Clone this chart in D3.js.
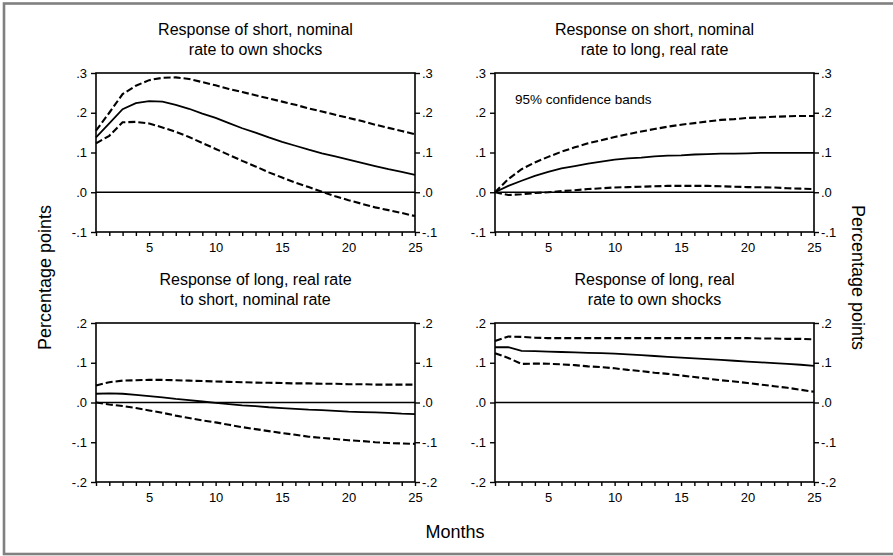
<!DOCTYPE html>
<html>
<head>
<meta charset="utf-8">
<script src="https://cdn.jsdelivr.net/npm/d3@7"></script>
<style>
  html, body { margin: 0; padding: 0; background: #fff; }
  svg { display: block; font-family: "Liberation Sans", Arial, Helvetica, sans-serif; }
</style>
</head>
<body>
<svg id="chart" width="893" height="556"></svg>
<script>
// ---- data ----
const months = [1,2,3,4,5,6,7,8,9,10,11,12,13,14,15,16,17,18,19,20,21,22,23,24,25];
const xTickMonths = [5,10,15,20,25];
const xTickLabels = ["5","10","15","20","25"];

const topYTicks = [-0.1, 0, 0.1, 0.2, 0.3];
const topYTickLabels = ["-.1", ".0", ".1", ".2", ".3"];
const bottomYTicks = [-0.2, -0.1, 0, 0.1, 0.2];
const bottomYTickLabels = ["-.2", "-.1", ".0", ".1", ".2"];

const panelTitles = [
  ["Response of short, nominal", "rate to own shocks"],
  ["Response on short, nominal", "rate to long, real rate"],
  ["Response of long, real rate", "to short, nominal rate"],
  ["Response of long, real", "rate to own shocks"]
];

// Panel 1: short, nominal rate to own shocks
const p1Mid   = [0.138,0.173,0.209,0.224,0.229,0.228,0.220,0.210,0.198,0.187,0.174,0.161,0.150,0.138,0.127,0.117,0.107,0.098,0.090,0.082,0.074,0.066,0.058,0.051,0.044];
const p1Upper = [0.155,0.200,0.247,0.268,0.282,0.288,0.289,0.285,0.277,0.269,0.260,0.252,0.244,0.236,0.228,0.220,0.211,0.203,0.195,0.187,0.179,0.170,0.162,0.154,0.146];
const p1Lower = [0.123,0.142,0.176,0.177,0.173,0.163,0.152,0.139,0.124,0.109,0.094,0.079,0.065,0.050,0.037,0.024,0.013,0.001,-0.010,-0.020,-0.029,-0.038,-0.045,-0.052,-0.060];

// Panel 2: short, nominal rate to long, real rate
const p2Mid   = [0.000,0.016,0.029,0.041,0.051,0.060,0.066,0.072,0.077,0.082,0.085,0.087,0.090,0.092,0.093,0.095,0.096,0.097,0.097,0.098,0.099,0.099,0.099,0.099,0.099];
const p2Upper = [0.000,0.033,0.058,0.075,0.089,0.102,0.113,0.123,0.131,0.139,0.146,0.153,0.159,0.165,0.170,0.174,0.178,0.182,0.184,0.187,0.188,0.190,0.191,0.192,0.192];
const p2Lower = [0.000,-0.007,-0.005,-0.002,0.000,0.003,0.005,0.008,0.010,0.012,0.013,0.014,0.015,0.016,0.016,0.016,0.016,0.015,0.014,0.013,0.0125,0.012,0.010,0.009,0.008];

// Panel 3: long, real rate to short, nominal rate
const p3Mid   = [0.022,0.023,0.022,0.019,0.016,0.013,0.009,0.006,0.0025,-0.001,-0.004,-0.007,-0.009,-0.012,-0.014,-0.016,-0.018,-0.019,-0.021,-0.023,-0.024,-0.025,-0.026,-0.028,-0.029];
const p3Upper = [0.043,0.051,0.055,0.056,0.057,0.057,0.056,0.055,0.054,0.053,0.052,0.051,0.050,0.0495,0.049,0.048,0.048,0.047,0.047,0.046,0.046,0.045,0.045,0.045,0.045];
const p3Lower = [0.000,-0.005,-0.009,-0.014,-0.020,-0.026,-0.033,-0.039,-0.045,-0.050,-0.056,-0.062,-0.067,-0.072,-0.077,-0.081,-0.086,-0.089,-0.092,-0.095,-0.097,-0.100,-0.102,-0.103,-0.104];

// Panel 4: long, real rate to own shocks
const p4Mid   = [0.139,0.139,0.130,0.129,0.128,0.127,0.126,0.125,0.124,0.123,0.121,0.119,0.117,0.115,0.113,0.111,0.109,0.107,0.105,0.103,0.101,0.099,0.097,0.095,0.092];
const p4Upper = [0.155,0.166,0.165,0.163,0.162,0.162,0.162,0.162,0.162,0.162,0.162,0.162,0.162,0.162,0.162,0.162,0.162,0.162,0.162,0.162,0.161,0.161,0.160,0.160,0.159];
const p4Lower = [0.124,0.112,0.097,0.098,0.0975,0.096,0.094,0.091,0.089,0.086,0.082,0.079,0.075,0.072,0.068,0.064,0.060,0.056,0.053,0.049,0.045,0.041,0.037,0.032,0.027];

const bandNote = "95% confidence bands";
const yAxisTitle = "Percentage points";
const xAxisTitle = "Months";

// ---- layout ----
const svg = d3.select("#chart");
const W = 893, H = 556;
const plotW = 319, plotH = 159;
const lefts = [96, 495];
const tops = [73, 323];

// outer frame
svg.append("rect")
  .attr("x", 4).attr("y", 3.5)
  .attr("width", W + 20).attr("height", 550.5)
  .attr("fill", "none").attr("stroke", "#808080").attr("stroke-width", 2.6);

const panels = [
  { title: panelTitles[0], mid: p1Mid, up: p1Upper, lo: p1Lower, ticks: topYTicks, labels: topYTickLabels, col: 0, row: 0 },
  { title: panelTitles[1], mid: p2Mid, up: p2Upper, lo: p2Lower, ticks: topYTicks, labels: topYTickLabels, col: 1, row: 0, note: bandNote },
  { title: panelTitles[2], mid: p3Mid, up: p3Upper, lo: p3Lower, ticks: bottomYTicks, labels: bottomYTickLabels, col: 0, row: 1 },
  { title: panelTitles[3], mid: p4Mid, up: p4Upper, lo: p4Lower, ticks: bottomYTicks, labels: bottomYTickLabels, col: 1, row: 1 }
];

panels.forEach(p => {
  const x0 = lefts[p.col], y0 = tops[p.row];
  const g = svg.append("g");
  const x = d3.scaleLinear().domain([months[0], months[months.length - 1]]).range([x0, x0 + plotW]);
  const y = d3.scaleLinear().domain([p.ticks[0], p.ticks[p.ticks.length - 1]]).range([y0 + plotH, y0]);
  const labelOf = v => p.labels[p.ticks.indexOf(v)];

  // axes
  const ax = (sel) => {
    sel.select(".domain").remove();
    sel.selectAll(".tick line").attr("stroke", "#000").attr("stroke-width", 1.4);
    sel.selectAll(".tick text").attr("fill", "#000");
  };
  g.append("g").attr("transform", `translate(${x0},0)`)
    .call(d3.axisLeft(y).tickValues(p.ticks).tickSize(5).tickPadding(4).tickFormat(labelOf))
    .attr("font-size", 13).attr("font-family", null).call(ax);
  g.append("g").attr("transform", `translate(${x0 + plotW},0)`)
    .call(d3.axisRight(y).tickValues(p.ticks).tickSize(5).tickPadding(2).tickFormat(labelOf))
    .attr("font-size", 13).attr("font-family", null).call(ax);
  g.append("g").attr("transform", `translate(0,${y0 + plotH})`)
    .call(d3.axisBottom(x).tickValues(months).tickSize(4).tickPadding(7)
      .tickFormat(v => { const i = xTickMonths.indexOf(v); return i >= 0 ? xTickLabels[i] : ""; }))
    .attr("font-size", 13).attr("font-family", null).call(ax);

  // plot frame
  g.append("rect").attr("x", x0).attr("y", y0).attr("width", plotW).attr("height", plotH)
    .attr("fill", "none").attr("stroke", "#000").attr("stroke-width", 1.6);

  // zero line
  g.append("line").attr("x1", x0).attr("x2", x0 + plotW).attr("y1", y(0)).attr("y2", y(0))
    .attr("stroke", "#000").attr("stroke-width", 1.6);

  const line = d3.line().x((d, i) => x(months[i])).y(d => y(d));
  g.append("path").datum(p.up).attr("d", line).attr("fill", "none")
    .attr("stroke", "#000").attr("stroke-width", 2.1).attr("stroke-dasharray", "7,3");
  g.append("path").datum(p.lo).attr("d", line).attr("fill", "none")
    .attr("stroke", "#000").attr("stroke-width", 2.1).attr("stroke-dasharray", "7,3");
  g.append("path").datum(p.mid).attr("d", line).attr("fill", "none")
    .attr("stroke", "#000").attr("stroke-width", 1.8);

  // title
  const cx = x0 + plotW / 2;
  g.append("text").attr("x", cx).attr("y", y0 - 38.5).attr("text-anchor", "middle")
    .attr("font-size", 16).text(p.title[0]);
  g.append("text").attr("x", cx).attr("y", y0 - 18.5).attr("text-anchor", "middle")
    .attr("font-size", 16).text(p.title[1]);

  if (p.note) {
    g.append("text").attr("x", x0 + 20).attr("y", y0 + 31).attr("font-size", 13.5).text(p.note);
  }
});

// global axis titles
const midY = (tops[0] + tops[1] + plotH) / 2;
svg.append("text").attr("transform", `translate(51,${midY}) rotate(-90)`)
  .attr("text-anchor", "middle").attr("font-size", 18).text(yAxisTitle);
svg.append("text").attr("transform", `translate(852,${midY}) rotate(90)`)
  .attr("text-anchor", "middle").attr("font-size", 18).text(yAxisTitle);
svg.append("text").attr("x", (lefts[0] + lefts[1] + plotW) / 2).attr("y", 538)
  .attr("text-anchor", "middle").attr("font-size", 18).text(xAxisTitle);
</script>
</body>
</html>
